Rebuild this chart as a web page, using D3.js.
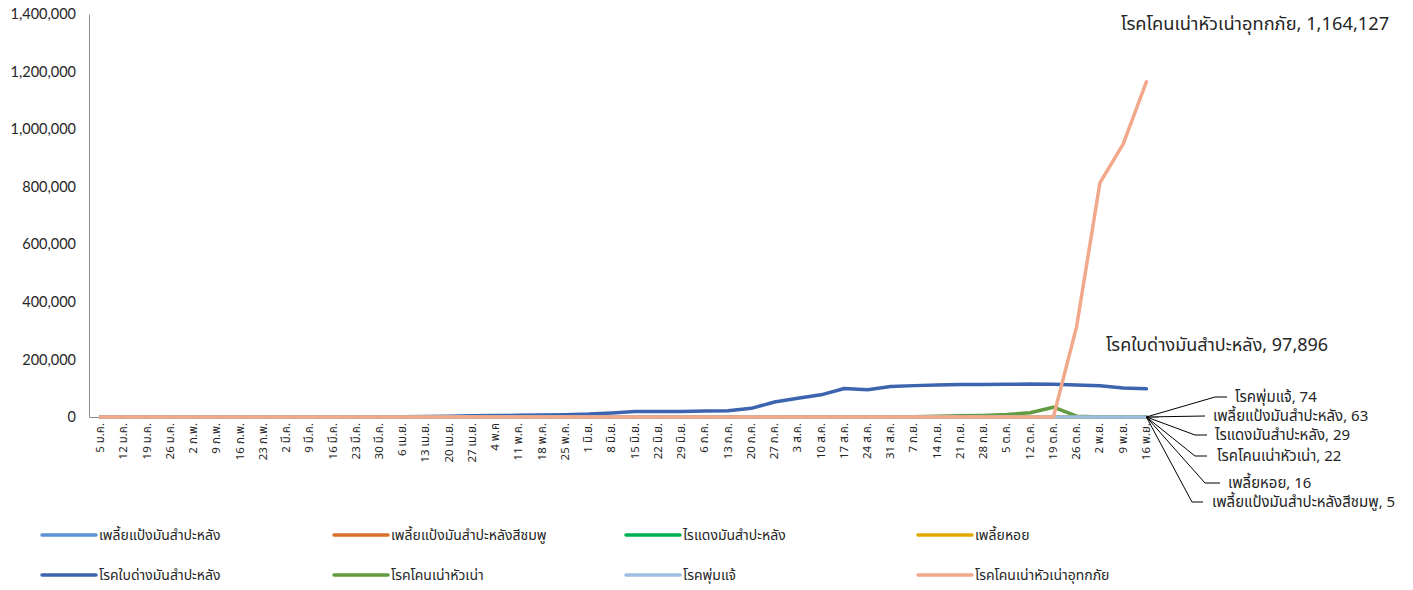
<!DOCTYPE html>
<html>
<head>
<meta charset="utf-8">
<script src="https://cdn.jsdelivr.net/npm/d3@7"></script>
<style>
  html, body { margin: 0; padding: 0; background: #fff; }
  svg { display: block; }
  text { font-family: "Noto Sans Thai", "Noto Sans", "DejaVu Sans", sans-serif; fill: #262626; }
  .ytick text { font-family: Lato, "Open Sans", sans-serif; }
</style>
</head>
<body>
<svg id="chart" width="1413" height="590"></svg>
<script>
// ---------- DATA ----------
const categories = [
  "5 ม.ค.","12 ม.ค.","19 ม.ค.","26 ม.ค.","2 ก.พ.","9 ก.พ.","16 ก.พ.","23 ก.พ.",
  "2 มี.ค.","9 มี.ค.","16 มี.ค.","23 มี.ค.","30 มี.ค.","6 เม.ย.","13 เม.ย.","20 เม.ย.",
  "27 เม.ย.","4 พ.ค","11 พ.ค.","18 พ.ค.","25 พ.ค.","1 มิ.ย.","8 มิ.ย.","15 มิ.ย.",
  "22 มิ.ย.","29 มิ.ย.","6 ก.ค.","13 ก.ค.","20 ก.ค.","27 ก.ค.","3 ส.ค.","10 ส.ค.",
  "17 ส.ค.","24 ส.ค.","31 ส.ค.","7 ก.ย.","14 ก.ย.","21 ก.ย.","28 ก.ย.","5 ต.ค.",
  "12 ต.ค.","19 ต.ค.","26 ต.ค.","2 พ.ย.","9 พ.ย.","16 พ.ย."
];

const seriesNames = [
  "เพลี้ยแป้งมันสำปะหลัง",
  "เพลี้ยแป้งมันสำปะหลังสีชมพู",
  "ไรแดงมันสำปะหลัง",
  "เพลี้ยหอย",
  "โรคใบด่างมันสำปะหลัง",
  "โรคโคนเน่าหัวเน่า",
  "โรคพุ่มแจ้",
  "โรคโคนเน่าหัวเน่าอุทกภัย"
];

const mealybug = [120,135,150,160,175,185,190,205,215,230,240,255,260,270,285,290,300,310,300,290,270,250,235,210,200,190,180,170,160,150,140,130,120,115,110,105,100,95,90,85,80,76,72,70,66,63];
const pinkMealybug = [10,12,11,13,14,12,15,16,14,13,15,16,17,15,14,13,12,12,11,10,10,9,9,8,8,8,7,7,7,6,6,6,6,6,5,5,5,5,5,5,5,5,5,5,5,5];
const redMite = [40,45,60,80,95,110,130,150,170,190,200,210,220,230,240,230,220,200,180,160,140,120,100,90,80,70,60,55,50,45,40,38,36,35,34,33,32,31,30,30,30,29,29,29,29,29];
const scaleInsect = [20,22,25,27,30,32,35,36,38,40,41,42,40,38,36,34,32,30,28,27,26,25,24,23,22,21,20,20,19,19,18,18,18,17,17,17,17,16,16,16,16,16,16,16,16,16];
const mosaic = [300,350,400,450,500,550,600,650,700,750,800,900,1000,1200,1500,2500,4000,5000,6000,7000,8000,10000,14000,19000,19500,19500,20500,21500,30000,52000,65000,77000,99000,95000,106000,109000,111000,113000,113000,113500,114500,113500,111000,108500,101000,97896];
const rootRot = [50,60,70,80,90,100,110,120,130,140,150,160,170,180,190,200,210,220,230,240,250,260,270,280,290,300,320,340,360,400,500,600,700,800,900,1200,3000,4000,5500,8500,15000,34000,3000,300,60,22];
const witchesBroom = [5,6,7,8,9,10,11,12,13,14,15,16,17,18,19,20,21,22,23,24,25,26,27,28,29,30,32,34,36,38,40,42,44,46,48,50,52,54,56,58,60,62,65,68,71,74];
const floodRot = [0,0,0,0,0,0,0,0,0,0,0,0,0,0,0,0,0,0,0,0,0,0,0,0,0,0,0,0,0,0,0,0,0,0,0,0,0,0,0,0,0,0,315000,813000,948000,1164127];

const seriesValues = [mealybug, pinkMealybug, redMite, scaleInsect, mosaic, rootRot, witchesBroom, floodRot];
const seriesColors = ["#5B93D3","#D9702E","#00AF50","#E2AA00","#3D64AF","#619A3F","#9CBEE2","#F2A88A"];

const yTicks = [0,200000,400000,600000,800000,1000000,1200000,1400000];

// ---------- CHART ----------
const svg = d3.select("#chart");
const x = d3.scaleBand().domain(categories).range([89, 1158]).padding(0);
const y = d3.scaleLinear().domain([0, 1400000]).range([417, 14]);
const cx = c => x(c) + x.bandwidth() / 2;

// Y axis
const yAxis = svg.append("g")
  .attr("class", "ytick")
  .attr("transform", "translate(89,0)")
  .call(d3.axisLeft(y).tickValues(yTicks).tickFormat(d3.format(",")).tickSize(0).tickPadding(13));
yAxis.select(".domain").attr("stroke", "#8c8c8c").attr("stroke-width", 1);
yAxis.selectAll("text").attr("font-size", 14.5).attr("fill", "#262626");

// X axis
const xAxis = svg.append("g")
  .attr("transform", "translate(0,417)")
  .call(d3.axisBottom(x).tickSize(0).tickSizeOuter(0));
xAxis.select(".domain").attr("stroke", "#8c8c8c").attr("stroke-width", 1);
xAxis.selectAll("text")
  .attr("font-size", 11.5)
  .attr("fill", "#262626")
  .attr("text-anchor", "end")
  .attr("dominant-baseline", "central")
  .attr("transform", "rotate(-90)")
  .attr("x", -6)
  .attr("y", 0)
  .attr("dy", null);

// Lines
const line = d3.line()
  .x((d, i) => cx(categories[i]))
  .y(d => y(d));

svg.append("g").selectAll("path")
  .data(seriesValues)
  .join("path")
  .attr("d", d => line(d))
  .attr("fill", "none")
  .attr("stroke", (d, i) => seriesColors[i])
  .attr("stroke-width", 3.5)
  .attr("stroke-linejoin", "round")
  .attr("stroke-linecap", "round");

// Data labels
const lastCat = categories[categories.length - 1];
const lastIdx = categories.length - 1;
const fmt = d3.format(",");

svg.append("text")
  .attr("x", 1121).attr("y", 24)
  .attr("dominant-baseline", "central")
  .attr("font-size", 18.3)
  .text(seriesNames[7] + ", " + fmt(floodRot[lastIdx]));

svg.append("text")
  .attr("x", 1106).attr("y", 345)
  .attr("dominant-baseline", "central")
  .attr("font-size", 18)
  .text(seriesNames[4] + ",  " + fmt(mosaic[lastIdx]));

// Leader-line labels for small series
const leaders = [
  { s: 6, ex: 1215, ey: 397, hx: 1227, tx: 1235 },
  { s: 0, ex: 1205, ey: 416, hx: 1205, tx: 1213 },
  { s: 2, ex: 1195, ey: 435, hx: 1207, tx: 1215 },
  { s: 5, ex: 1195, ey: 456, hx: 1207, tx: 1217 },
  { s: 3, ex: 1205, ey: 483, hx: 1220, tx: 1228 },
  { s: 1, ex: 1192, ey: 502, hx: 1203, tx: 1212 }
];
const lg = svg.append("g");
leaders.forEach(l => {
  const px = cx(lastCat), py = y(seriesValues[l.s][lastIdx]);
  lg.append("polyline")
    .attr("points", `${px},${py} ${l.ex},${l.ey} ${l.hx},${l.ey}`)
    .attr("fill", "none").attr("stroke", "#000").attr("stroke-width", 1);
  lg.append("text")
    .attr("x", l.tx).attr("y", l.ey)
    .attr("dominant-baseline", "central")
    .attr("font-size", 15)
    .text(seriesNames[l.s] + ", " + seriesValues[l.s][lastIdx]);
});

// Legend
const legend = svg.append("g");
seriesNames.forEach((name, s) => {
  const col = s % 4, row = Math.floor(s / 4);
  const lx = 42 + col * 292, ly = 535 + row * 40;
  legend.append("line")
    .attr("x1", lx).attr("x2", lx + 54).attr("y1", ly).attr("y2", ly)
    .attr("stroke", seriesColors[s]).attr("stroke-width", 3.5).attr("stroke-linecap", "round");
  legend.append("text")
    .attr("x", lx + 57).attr("y", ly)
    .attr("dominant-baseline", "central")
    .attr("font-size", 14)
    .attr("fill", "#404040")
    .text(name);
});
</script>
</body>
</html>
